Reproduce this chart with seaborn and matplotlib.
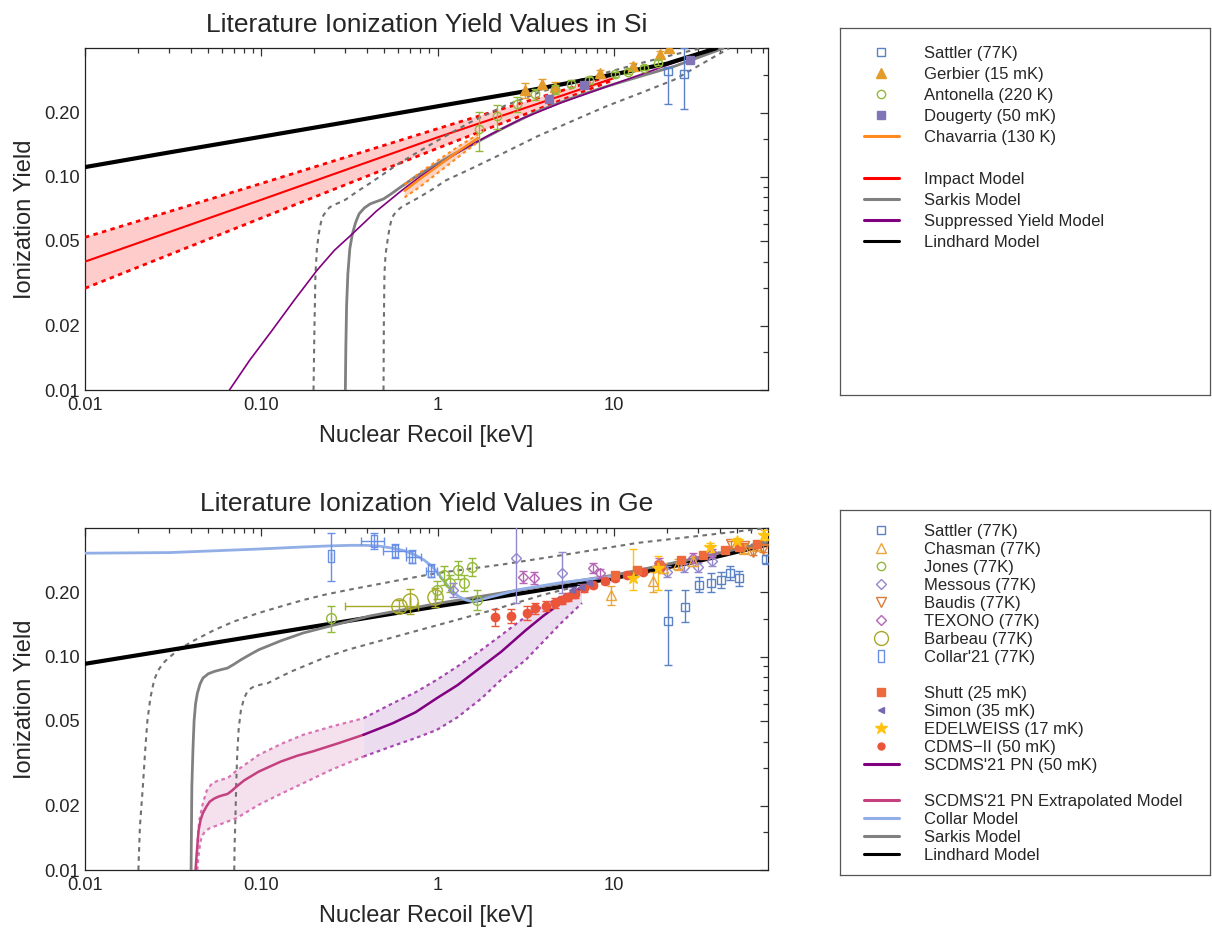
import matplotlib
matplotlib.use("Agg")
import matplotlib.pyplot as plt
import seaborn as sns
from matplotlib.lines import Line2D
from matplotlib.ticker import FixedLocator, FixedFormatter, NullFormatter

# ---------------- Si panel ----------------
si_lind_e = [0.01, 0.03, 0.1, 0.3, 1, 3, 10, 20, 38]
si_lind_y = [0.111, 0.130, 0.154, 0.180, 0.214, 0.250, 0.302, 0.339, 0.40]

si_imp_e = [0.01, 0.1, 1, 10]
si_imp_y = [0.040, 0.078, 0.153, 0.290]
si_imp_hi = [0.052, 0.093, 0.168, 0.301]
si_imp_lo = [0.030, 0.064, 0.136, 0.285]

si_sark_e = [0.30, 0.302, 0.305, 0.31, 0.318, 0.329, 0.343, 0.359, 0.385, 0.415, 0.45, 0.494,
             0.55, 0.624, 0.75, 0.96, 1.2, 1.51, 2.36, 3.7, 5.77, 9.06, 14.2, 22.2, 41.7]
si_sark_y = [0.01, 0.016, 0.025, 0.035, 0.046, 0.054, 0.061, 0.067, 0.0715, 0.0746, 0.0765,
             0.0787, 0.0835, 0.090, 0.100, 0.113, 0.126, 0.139, 0.169, 0.203, 0.234, 0.265,
             0.296, 0.330, 0.40]
si_sark_hi_e = [0.198, 0.200, 0.203, 0.207, 0.212, 0.218, 0.225, 0.235, 0.245, 0.26, 0.276,
                0.30, 0.348, 0.42, 0.494, 0.6, 0.743, 0.96, 1.51, 2.4, 3.7, 6, 9.06, 15, 22, 40]
si_sark_hi_y = [0.01, 0.018, 0.035, 0.046, 0.054, 0.061, 0.0658, 0.0695, 0.072, 0.074, 0.0755,
                0.078, 0.085, 0.094, 0.103, 0.115, 0.128, 0.145, 0.179, 0.215, 0.247, 0.28,
                0.308, 0.345, 0.374, 0.42]
si_sark_lo_e = [0.494, 0.496, 0.50, 0.507, 0.52, 0.535, 0.553, 0.585, 0.624, 0.7, 0.785, 0.95,
                1.11, 1.51, 2.36, 3.7, 5.77, 9.06, 14.2, 22, 45]
si_sark_lo_y = [0.01, 0.02, 0.035, 0.043, 0.050, 0.058, 0.0646, 0.069, 0.072, 0.076, 0.080,
                0.088, 0.096, 0.108, 0.129, 0.155, 0.182, 0.214, 0.247, 0.285, 0.40]

si_supp_e = [0.066, 0.086, 0.115, 0.154, 0.207, 0.26, 0.329, 0.45, 0.624, 0.8, 1.0, 1.4, 2.0,
             3.0, 5.0, 10, 20, 38]
si_supp_y = [0.01, 0.0138, 0.019, 0.0264, 0.0364, 0.0452, 0.054, 0.069, 0.086, 0.1004, 0.113,
             0.1346, 0.158, 0.187, 0.222, 0.272, 0.333, 0.40]

si_chav_e = [0.65, 0.8, 1.0, 1.3, 1.7]
si_chav_y = [0.086, 0.098, 0.112, 0.131, 0.152]
si_chav_hi = [0.092, 0.105, 0.119, 0.138, 0.158]
si_chav_lo = [0.080, 0.090, 0.104, 0.123, 0.146]

gerbier_e = [3.15, 3.9, 4.65, 8.3, 12.9, 18.2, 20.5]
gerbier_y = [0.255, 0.273, 0.264, 0.308, 0.331, 0.375, 0.40]
gerbier_err = [0.02, 0.015, 0.015, 0.01, 0.01, 0.015, 0.01]

antonella_e = [1.73, 2.18, 2.83, 3.57, 4.65, 5.7, 7.2, 10.2, 12.1, 14.9, 17.7]
antonella_y = [0.167, 0.193, 0.219, 0.244, 0.257, 0.273, 0.283, 0.302, 0.311, 0.325, 0.343]
antonella_err = [0.035, 0.025, 0.018, 0.014, 0.012, 0.01, 0.01, 0.008, 0.008, 0.008, 0.008]

dougerty_e = [4.3, 6.8, 27]
dougerty_y = [0.232, 0.27, 0.352]

si_sattler_e = [20.3, 25.1]
si_sattler_y = [0.313, 0.304]
si_sattler_lo = [0.219, 0.207]
si_sattler_hi = [0.325, 0.40]

# ---------------- Ge panel ----------------
ge_lind_e = [0.01, 0.1, 1, 3, 10, 30, 75]
ge_lind_y = [0.0925, 0.126, 0.172, 0.198, 0.233, 0.280, 0.335]

ge_sark_e = [0.040, 0.0402, 0.0404, 0.041, 0.0416, 0.0424, 0.0434, 0.045, 0.0467, 0.050, 0.054,
             0.059, 0.0643, 0.07, 0.0767, 0.086, 0.0967, 0.129, 0.173, 0.246, 0.414, 0.99,
             2.91, 10.1, 30, 80]
ge_sark_y = [0.01, 0.016, 0.0246, 0.037, 0.050, 0.060, 0.0673, 0.0745, 0.0793, 0.0830, 0.0851,
             0.0868, 0.0883, 0.092, 0.0966, 0.102, 0.1076, 0.1185, 0.129, 0.139, 0.155, 0.177,
             0.205, 0.241, 0.29, 0.348]
ge_sark_hi_e = [0.0201, 0.0205, 0.0213, 0.022, 0.0226, 0.0235, 0.0247, 0.026, 0.0277, 0.030,
                0.034, 0.040, 0.054, 0.07, 0.0967, 0.13, 0.173, 0.23, 0.309, 0.557, 0.99, 2.33,
                5, 13.7, 30, 74]
ge_sark_hi_y = [0.01, 0.016, 0.0246, 0.037, 0.050, 0.064, 0.0778, 0.086, 0.093, 0.099, 0.1076,
                0.117, 0.133, 0.146, 0.160, 0.172, 0.184, 0.195, 0.205, 0.225, 0.246, 0.270,
                0.298, 0.341, 0.367, 0.40]
ge_sark_lo_e = [0.0703, 0.0706, 0.0713, 0.0722, 0.0731, 0.0745, 0.0767, 0.080, 0.0835, 0.0875,
                0.0912, 0.1, 0.1087, 0.129, 0.15, 0.173, 0.23, 0.309, 0.557, 0.99, 2.1, 4.0,
                8.8, 20, 51, 81]
ge_sark_lo_y = [0.01, 0.013, 0.0171, 0.026, 0.0352, 0.046, 0.0562, 0.064, 0.0686, 0.071, 0.0725,
                0.074, 0.075, 0.0806, 0.0855, 0.0898, 0.099, 0.1076, 0.123, 0.140, 0.166, 0.195,
                0.229, 0.27, 0.323, 0.354]

collar_e = [0.01, 0.0302, 0.0967, 0.17, 0.245, 0.32, 0.39, 0.47, 0.557, 0.65, 0.743, 0.84, 0.935,
            1.02, 1.11, 1.21, 1.32, 1.45, 1.58, 2.0, 2.91, 5, 10.1]
collar_y = [0.305, 0.307, 0.319, 0.326, 0.330, 0.332, 0.332, 0.329, 0.322, 0.313, 0.300, 0.283,
            0.264, 0.242, 0.221, 0.203, 0.191, 0.184, 0.181, 0.190, 0.206, 0.222, 0.238]

pn_e = [0.38, 0.557, 0.75, 0.99, 1.3, 1.78, 2.3, 3.17, 4.0, 5.0, 6.6]
pn_y = [0.043, 0.0487, 0.0548, 0.0638, 0.0735, 0.0897, 0.1054, 0.133, 0.1555, 0.178, 0.209]
pn_hi = [0.0514, 0.0604, 0.068, 0.0778, 0.090, 0.1076, 0.126, 0.154, 0.173, 0.19, 0.212]
pn_lo = [0.034, 0.0381, 0.0415, 0.0453, 0.052, 0.0638, 0.078, 0.0966, 0.118, 0.143, 0.178]

ext_e = [0.0424, 0.0430, 0.0441, 0.0453, 0.0467, 0.049, 0.051, 0.054, 0.0574, 0.0605, 0.0643,
         0.068, 0.0724, 0.08, 0.0967, 0.129, 0.16, 0.195, 0.275, 0.38]
ext_y = [0.01, 0.0118, 0.0153, 0.0172, 0.0185, 0.0199, 0.0209, 0.0216, 0.0221, 0.0224, 0.0227,
         0.0235, 0.0246, 0.0263, 0.0289, 0.0322, 0.0343, 0.0359, 0.0393, 0.043]
ext_hi_e = [0.0430, 0.0432, 0.0437, 0.0445, 0.0467, 0.049, 0.0526, 0.058, 0.0643, 0.0724,
            0.0967, 0.13, 0.173, 0.25, 0.38]
ext_hi_y = [0.01, 0.012, 0.0143, 0.0170, 0.0206, 0.0235, 0.0255, 0.0264, 0.0269, 0.0292,
            0.0346, 0.039, 0.043, 0.047, 0.0514]
ext_lo_e = [0.0434, 0.0440, 0.0450, 0.0459, 0.048, 0.051, 0.06, 0.0724, 0.0967, 0.13, 0.173,
            0.25, 0.38]
ext_lo_y = [0.01, 0.0115, 0.0133, 0.0143, 0.0152, 0.0157, 0.0165, 0.0175, 0.0202, 0.0228,
            0.0255, 0.0295, 0.034]

ge_sattler_e = [20.3, 25.4, 30.5, 35.6, 40.5, 45.7, 51, 73]
ge_sattler_y = [0.146, 0.171, 0.217, 0.221, 0.229, 0.246, 0.233, 0.285]
ge_sattler_lo = [0.0914, 0.145, 0.200, 0.200, 0.210, 0.228, 0.215, 0.27]
ge_sattler_hi = [0.206, 0.205, 0.235, 0.245, 0.250, 0.265, 0.252, 0.30]

collar21_e = [0.248, 0.435, 0.571, 0.72, 0.92]
collar21_y = [0.296, 0.346, 0.311, 0.294, 0.251]
collar21_lo = [0.225, 0.318, 0.290, 0.275, 0.235]
collar21_hi = [0.379, 0.379, 0.335, 0.315, 0.270]
collar21_elo = [0.248, 0.37, 0.49, 0.66, 0.86]
collar21_ehi = [0.248, 0.50, 0.66, 0.81, 0.99]

jones_e = [0.248, 0.99, 1.084, 1.18, 1.31, 1.42, 1.56, 1.68]
jones_y = [0.151, 0.206, 0.242, 0.221, 0.255, 0.222, 0.264, 0.185]
jones_err = [0.021, 0.02, 0.025, 0.02, 0.025, 0.02, 0.025, 0.02]

barbeau_e = [0.605, 0.70, 0.97]
barbeau_y = [0.173, 0.183, 0.19]
barbeau_err = [0.012, 0.025, 0.02]
barbeau_elo = [0.30, 0.70, 0.97]
barbeau_ehi = [0.78, 0.70, 0.97]

messous_e = [1.22, 2.80, 5.07, 20, 25, 30, 36]
messous_y = [0.206, 0.289, 0.246, 0.25, 0.262, 0.262, 0.28]
messous_lo = [0.19, 0.178, 0.198, 0.235, 0.25, 0.25, 0.265]
messous_hi = [0.22, 0.41, 0.309, 0.265, 0.275, 0.275, 0.295]

texono_e = [3.05, 3.53, 7.6, 8.3, 18, 28, 36]
texono_y = [0.237, 0.233, 0.26, 0.246, 0.275, 0.29, 0.305]
texono_err = [0.015, 0.015, 0.015, 0.012, 0.015, 0.015, 0.015]

chasman_e = [9.6, 16.7, 19, 23, 28, 55, 65]
chasman_y = [0.195, 0.225, 0.26, 0.27, 0.28, 0.32, 0.33]
chasman_err = [0.02, 0.025, 0.015, 0.015, 0.015, 0.015, 0.015]

baudis_e = [46, 55, 62, 70]
baudis_y = [0.336, 0.33, 0.31, 0.32]

edel_e = [12.8, 17.9, 35, 49.8, 70.8]
edel_y = [0.233, 0.26, 0.326, 0.348, 0.37]
edel_lo = [0.205, 0.205, 0.31, 0.335, 0.35]
edel_hi = [0.32, 0.296, 0.34, 0.36, 0.39]

shutt_e = [10.2, 13.5, 18, 24, 32, 43, 51, 65]
shutt_y = [0.24, 0.255, 0.268, 0.283, 0.30, 0.315, 0.325, 0.335]

simon_e = [5.8, 6.5, 7.2]
simon_y = [0.205, 0.212, 0.22]

cdms_e = [2.12, 2.6, 3.2, 3.57, 4.1, 4.65, 5.1, 5.5, 6.0, 6.8, 7.6, 8.9, 10.2, 11.9, 14.6, 18.2]
cdms_y = [0.153, 0.155, 0.16, 0.169, 0.173, 0.178, 0.184, 0.19, 0.197, 0.209, 0.216, 0.225,
          0.233, 0.242, 0.25, 0.264]
cdms_err = [0.014, 0.012, 0.012, 0.01, 0.01, 0.01, 0.008, 0.008, 0.008, 0.008, 0.007, 0.007,
            0.006, 0.006, 0.006, 0.006]

# colours
C_SATTLER = '#5b82c4'
C_GERBIER = '#e39b2a'
C_ANTON = '#94b83a'
C_DOUG = '#8275b5'
C_CHAV = '#ff8a1e'
C_CHASMAN = '#eba43c'
C_JONES = '#94b83a'
C_MESSOUS = '#9488cc'
C_BAUDIS = '#dd7a36'
C_TEXONO = '#b565b5'
C_BARBEAU = '#a8a828'
C_COLLAR21 = '#6a8fe6'
C_SHUTT = '#ef6a3a'
C_SIMON = '#7768b0'
C_EDEL = '#ffc20e'
C_CDMS = '#eb553a'
C_COLLARM = '#92aee6'
C_PN = '#800080'
C_EXT = '#c4407e'

sns.set_style("white")
plt.rcParams['font.family'] = ['Liberation Sans', 'DejaVu Sans']

fig = plt.figure(figsize=(12.12, 9.3), dpi=100)
ax1 = fig.add_axes([0.0701, 0.5806, 0.5636, 0.3674])
ax2 = fig.add_axes([0.0701, 0.0645, 0.5636, 0.3677])


def line(ax, x, y, color, lw, ls='-', z=3):
    sns.lineplot(x=x, y=y, ax=ax, color=color, lw=lw, linestyle=ls, sort=False,
                 estimator=None, zorder=z)


def band(ax, xh, yh, xl, yl, color):
    ax.fill(list(xh) + list(xl)[::-1], list(yh) + list(yl)[::-1], color=color, lw=0, zorder=1)


def points(ax, x, y, lo, hi, marker, color, filled, ms, xlo=None, xhi=None):
    yerr = [[v - l for v, l in zip(y, lo)], [h - v for v, h in zip(y, hi)]]
    xerr = None
    if xlo is not None:
        xerr = [[v - l for v, l in zip(x, xlo)], [h - v for v, h in zip(x, xhi)]]
    ax.errorbar(x, y, yerr=yerr, xerr=xerr, fmt='', ls='none', marker=marker, ms=ms,
                color=color, mec=color, mfc=color if filled else 'none', mew=1.0,
                elinewidth=1.0, capsize=3, capthick=1.0, zorder=5)


def sym(y, err):
    return [v - e for v, e in zip(y, err)], [v + e for v, e in zip(y, err)]


DOT = (0, (1.6, 1.6))
GDOT = (0, (2.2, 2.2))
RECT = [(-0.55, -1), (0.55, -1), (0.55, 1), (-0.55, 1), (-0.55, -1)]

# ---- Si ----
band(ax1, si_imp_e, si_imp_hi, si_imp_e, si_imp_lo, '#ffcccc')
band(ax1, si_chav_e, si_chav_hi, si_chav_e, si_chav_lo, '#ffd3c4')
line(ax1, si_imp_e, si_imp_hi, 'red', 2.0, DOT)
line(ax1, si_imp_e, si_imp_lo, 'red', 2.0, DOT)
line(ax1, si_imp_e, si_imp_y, 'red', 1.5)
line(ax1, si_sark_hi_e, si_sark_hi_y, '#707070', 1.5, GDOT)
line(ax1, si_sark_lo_e, si_sark_lo_y, '#707070', 1.5, GDOT)
line(ax1, si_sark_e, si_sark_y, '#808080', 2.0)
line(ax1, si_supp_e, si_supp_y, C_PN, 1.2)
line(ax1, si_chav_e, si_chav_hi, C_CHAV, 1.5, DOT)
line(ax1, si_chav_e, si_chav_lo, C_CHAV, 1.5, DOT)
line(ax1, si_chav_e, si_chav_y, C_CHAV, 1.8)
line(ax1, si_lind_e, si_lind_y, 'black', 3.0, z=4)

points(ax1, si_sattler_e, si_sattler_y, si_sattler_lo, si_sattler_hi, 's', C_SATTLER, False, 6)
points(ax1, gerbier_e, gerbier_y, *sym(gerbier_y, gerbier_err), '^', C_GERBIER, True, 7)
points(ax1, antonella_e, antonella_y, *sym(antonella_y, antonella_err), 'o', C_ANTON, False, 6)
points(ax1, dougerty_e, dougerty_y, *sym(dougerty_y, [0.006] * 3), 's', C_DOUG, True, 6)

# ---- Ge ----
band(ax2, ext_hi_e, ext_hi_y, ext_lo_e, ext_lo_y, '#f5e1ee')
band(ax2, pn_e, pn_hi, pn_e, pn_lo, '#ebdcf0')
line(ax2, ge_sark_hi_e, ge_sark_hi_y, '#707070', 1.5, GDOT)
line(ax2, ge_sark_lo_e, ge_sark_lo_y, '#707070', 1.5, GDOT)
line(ax2, ext_hi_e, ext_hi_y, '#d873b4', 1.6, DOT)
line(ax2, ext_lo_e, ext_lo_y, '#d873b4', 1.6, DOT)
line(ax2, pn_e, pn_hi, '#a646b0', 1.6, DOT)
line(ax2, pn_e, pn_lo, '#a646b0', 1.6, DOT)
line(ax2, ext_e, ext_y, C_EXT, 1.8)
line(ax2, pn_e, pn_y, C_PN, 1.8)
line(ax2, ge_lind_e, ge_lind_y, 'black', 3.0, z=3)
line(ax2, ge_sark_e, ge_sark_y, '#808080', 2.0, z=4)
line(ax2, collar_e, collar_y, C_COLLARM, 2.0, z=4)

points(ax2, ge_sattler_e, ge_sattler_y, ge_sattler_lo, ge_sattler_hi, 's', C_SATTLER, False, 6)
points(ax2, collar21_e, collar21_y, collar21_lo, collar21_hi, RECT, C_COLLAR21, False, 9,
       collar21_elo, collar21_ehi)
points(ax2, jones_e, jones_y, *sym(jones_y, jones_err), 'o', C_JONES, False, 7)
points(ax2, barbeau_e, barbeau_y, *sym(barbeau_y, barbeau_err), 'o', C_BARBEAU, False, 11,
       barbeau_elo, barbeau_ehi)
points(ax2, messous_e, messous_y, messous_lo, messous_hi, 'D', C_MESSOUS, False, 5.5)
points(ax2, texono_e, texono_y, *sym(texono_y, texono_err), 'D', C_TEXONO, False, 5.5)
points(ax2, chasman_e, chasman_y, *sym(chasman_y, chasman_err), '^', C_CHASMAN, False, 7)
points(ax2, baudis_e, baudis_y, *sym(baudis_y, [0.012] * 4), 'v', C_BAUDIS, False, 7)
points(ax2, cdms_e, cdms_y, *sym(cdms_y, cdms_err), 'o', C_CDMS, True, 6)
points(ax2, shutt_e, shutt_y, *sym(shutt_y, [0.008] * 8), 's', C_SHUTT, True, 6)
points(ax2, simon_e, simon_y, *sym(simon_y, [0.006] * 3), '<', C_SIMON, True, 5)
points(ax2, edel_e, edel_y, edel_lo, edel_hi, '*', C_EDEL, True, 9)

# ---- axes styling ----
x_major = [0.01, 0.1, 1, 10]
x_minor = [m * d for d in [0.01, 0.1, 1, 10] for m in range(2, 10)]
y_major = [0.01, 0.02, 0.05, 0.1, 0.2]
y_minor = [0.015, 0.03, 0.04, 0.06, 0.07, 0.08, 0.09, 0.15, 0.3, 0.4]
titles = ['Literature Ionization Yield Values in Si', 'Literature Ionization Yield Values in Ge']
for ax, title in zip([ax1, ax2], titles):
    ax.set_xscale('log')
    ax.set_yscale('log')
    ax.set_xlim(0.01, 75)
    ax.set_ylim(0.01, 0.40)
    ax.xaxis.set_major_locator(FixedLocator(x_major))
    ax.xaxis.set_major_formatter(FixedFormatter(['0.01', '0.10', '1', '10']))
    ax.xaxis.set_minor_locator(FixedLocator(x_minor))
    ax.xaxis.set_minor_formatter(NullFormatter())
    ax.yaxis.set_major_locator(FixedLocator(y_major))
    ax.yaxis.set_major_formatter(FixedFormatter(['0.01', '0.02', '0.05', '0.10', '0.20']))
    ax.yaxis.set_minor_locator(FixedLocator(y_minor))
    ax.yaxis.set_minor_formatter(NullFormatter())
    ax.tick_params(which='both', direction='in', top=True, right=True, labelsize=13.2,
                   color='#333333', width=0.9)
    ax.tick_params(which='major', length=6)
    ax.tick_params(axis='x', which='major', pad=5)
    ax.tick_params(which='minor', length=3.5)
    for s in ax.spines.values():
        s.set_color('#222222')
        s.set_linewidth(0.9)
    ax.set_xlabel('Nuclear Recoil [keV]', fontsize=17, labelpad=8)
    ax.set_ylabel('Ionization Yield', fontsize=17, labelpad=6)
    ax.set_title(title, fontsize=19, pad=12)


# ---- legends ----
def mk(marker, color, filled, ms):
    return Line2D([], [], ls='none', marker=marker, color=color, mec=color,
                  mfc=color if filled else 'none', ms=ms, mew=1.0)


def ln(color):
    return Line2D([], [], color=color, lw=2.2)


blank = Line2D([], [], ls='none')

si_handles = [mk('s', C_SATTLER, False, 6), mk('^', C_GERBIER, True, 7),
              mk('o', C_ANTON, False, 6), mk('s', C_DOUG, True, 6), ln(C_CHAV), blank,
              ln('red'), ln('#808080'), ln(C_PN), ln('black')]
si_labels = ['Sattler (77K)', 'Gerbier (15 mK)', 'Antonella (220 K)', 'Dougerty (50 mK)',
             'Chavarria (130 K)', '', 'Impact Model', 'Sarkis Model',
             'Suppressed Yield Model', 'Lindhard Model']

ge_handles = [mk('s', C_SATTLER, False, 6), mk('^', C_CHASMAN, False, 7),
              mk('o', C_JONES, False, 6), mk('D', C_MESSOUS, False, 5.5),
              mk('v', C_BAUDIS, False, 7), mk('D', C_TEXONO, False, 5.5),
              mk('o', C_BARBEAU, False, 10), mk(RECT, C_COLLAR21, False, 9), blank,
              mk('s', C_SHUTT, True, 6), mk('<', C_SIMON, True, 5), mk('*', C_EDEL, True, 9),
              mk('o', C_CDMS, True, 5), ln(C_PN), blank, ln(C_EXT), ln(C_COLLARM),
              ln('#808080'), ln('black')]
ge_labels = ['Sattler (77K)', 'Chasman (77K)', 'Jones (77K)', 'Messous (77K)', 'Baudis (77K)',
             'TEXONO (77K)', 'Barbeau (77K)', "Collar'21 (77K)", '', 'Shutt (25 mK)',
             'Simon (35 mK)', 'EDELWEISS (17 mK)', 'CDMS\u2212II (50 mK)',
             "SCDMS'21 PN (50 mK)", '', "SCDMS'21 PN Extrapolated Model", 'Collar Model',
             'Sarkis Model', 'Lindhard Model']

for rect, handles, labels, spacing, top in [
        ([0.693, 0.5753, 0.305, 0.3946], si_handles, si_labels, 0.36, 0.951),
        ([0.693, 0.0591, 0.305, 0.3925], ge_handles, ge_labels, 0.18, 0.961)]:
    lax = fig.add_axes(rect)
    lax.set_xticks([])
    lax.set_yticks([])
    for s in lax.spines.values():
        s.set_color('#555555')
        s.set_linewidth(0.9)
    lax.legend(handles, labels, loc='upper left', bbox_to_anchor=(0.065, top),
               frameon=False, fontsize=12, labelspacing=spacing, handlelength=2.1,
               handletextpad=1.5, borderpad=0, borderaxespad=0)

fig.savefig('out.png', dpi=100)
